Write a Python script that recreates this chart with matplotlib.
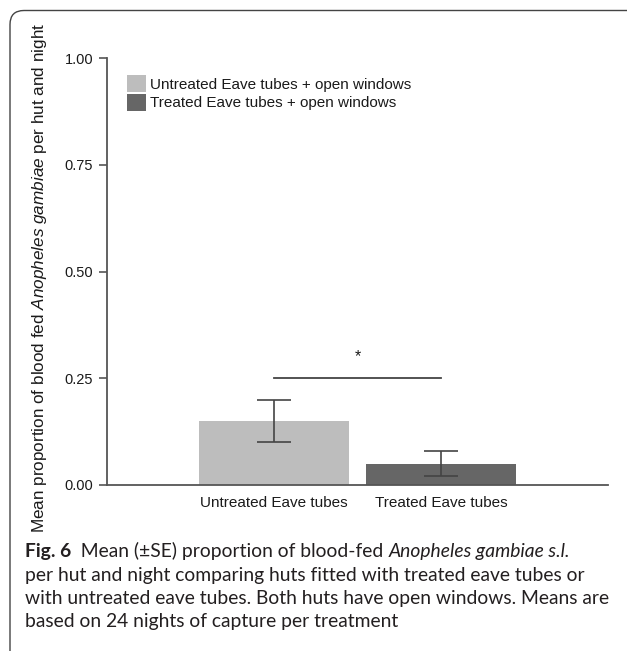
import matplotlib
matplotlib.use('Agg')
import matplotlib.pyplot as plt
from matplotlib.patches import FancyBboxPatch
from matplotlib.transforms import IdentityTransform

# data
groups = ['Untreated Eave tubes', 'Treated Eave tubes']
legend_labels = ['Untreated Eave tubes + open windows', 'Treated Eave tubes + open windows']
means = [0.15, 0.05]
lower = [0.10, 0.02]
upper = [0.20, 0.08]
bar_colors = ['#bdbdbd', '#666666']
yticks = [0.00, 0.25, 0.50, 0.75, 1.00]
sig_pair = [0, 1]
sig_y = 0.25
sig_label = '*'

caption_lines = [
    'per hut and night comparing huts fitted with treated eave tubes or',
    'with untreated eave tubes. Both huts have open windows. Means are',
    'based on 24 nights of capture per treatment',
]

plt.rcParams['font.family'] = ['Liberation Sans', 'DejaVu Sans']
plt.rcParams['mathtext.fontset'] = 'custom'
plt.rcParams['mathtext.rm'] = 'Liberation Sans'
plt.rcParams['mathtext.it'] = 'Liberation Sans:italic'

W, H = 627, 651
fig = plt.figure(figsize=(W / 100, H / 100), dpi=100)
ax = fig.add_axes([107 / W, 1 - 485 / H, (608 - 107) / W, (485 - 58) / H])

axis_col = '#555555'
txt_col = '#1a1a1a'
for i, g in enumerate(groups):
    ax.bar(i, means[i], width=0.9, color=bar_colors[i], label=legend_labels[i],
           yerr=[[means[i] - lower[i]], [upper[i] - means[i]]], capsize=12,
           error_kw=dict(ecolor='#444444', elinewidth=1.2, capthick=1.2))

# significance bar
ax.plot(sig_pair, [sig_y, sig_y], color='#444444', lw=1.3)
ax.text(sum(sig_pair) / 2, sig_y + 0.05, sig_label, ha='center', va='center', fontsize=11.5,
        color=txt_col)

ax.set_xlim(-1, 2)
ax.set_ylim(0, 1)
ax.set_xticks(range(len(groups)))
ax.set_xticklabels(groups, fontsize=11, color=txt_col)
ax.set_yticks(yticks)
ax.set_yticklabels(['%.2f' % v for v in yticks], fontsize=10.5, color=txt_col)
ax.tick_params(axis='x', length=0, pad=8)
ax.tick_params(axis='y', length=6, width=1.2, color=axis_col, pad=4)
for s in ['top', 'right']:
    ax.spines[s].set_visible(False)
for s in ['left', 'bottom']:
    ax.spines[s].set_color(axis_col)
    ax.spines[s].set_linewidth(1.3)
ax.spines['left'].set_bounds(0, 1)

leg = ax.legend(loc='upper left', bbox_to_anchor=(126.5 / W, 1 - 75.5 / H), bbox_transform=fig.transFigure,
                frameon=False, fontsize=11, borderpad=0, borderaxespad=0, handlelength=1.3,
                handleheight=1.27, handletextpad=0.25, labelspacing=0.15)
for t in leg.get_texts():
    t.set_color(txt_col)

fig.text(40 / W, 1 - 278 / H,
         r'Mean proportion of blood fed $\mathit{Anopheles\ gambiae}$ per hut and night',
         rotation=90, ha='center', va='center', fontsize=12.3, color=txt_col)

# caption
cap_font = ['Lato', 'DejaVu Sans']
cap_size = 13.9
cap_col = '#231f20'
renderer = fig.canvas.get_renderer()
x0 = 25 / W
y_base = [557, 580.5, 604, 627.5]
pieces = [('Fig. 6', 'bold', 'normal'),
          ('  Mean (\u00b1SE) proportion of blood-fed ', 'normal', 'normal'),
          ('Anopheles gambiae s.l.', 'normal', 'italic')]
x = x0
for s, wgt, sty in pieces:
    t = fig.text(x, 1 - y_base[0] / H, s, family=cap_font, fontsize=cap_size, weight=wgt,
                 style=sty, color=cap_col, va='baseline')
    x = t.get_window_extent(renderer).x1 / fig.bbox.width
for k, line in enumerate(caption_lines):
    fig.text(x0, 1 - y_base[k + 1] / H, line, family=cap_font, fontsize=cap_size,
             color=cap_col, va='baseline')

# rounded frame round the whole panel
frame = FancyBboxPatch((10, -30), 700, H - 10.5 + 30, boxstyle='round,pad=0,rounding_size=14',
                       transform=IdentityTransform(), fill=False, ec='#444444', lw=1.0)
fig.add_artist(frame)

fig.savefig('out.png', dpi=100)
